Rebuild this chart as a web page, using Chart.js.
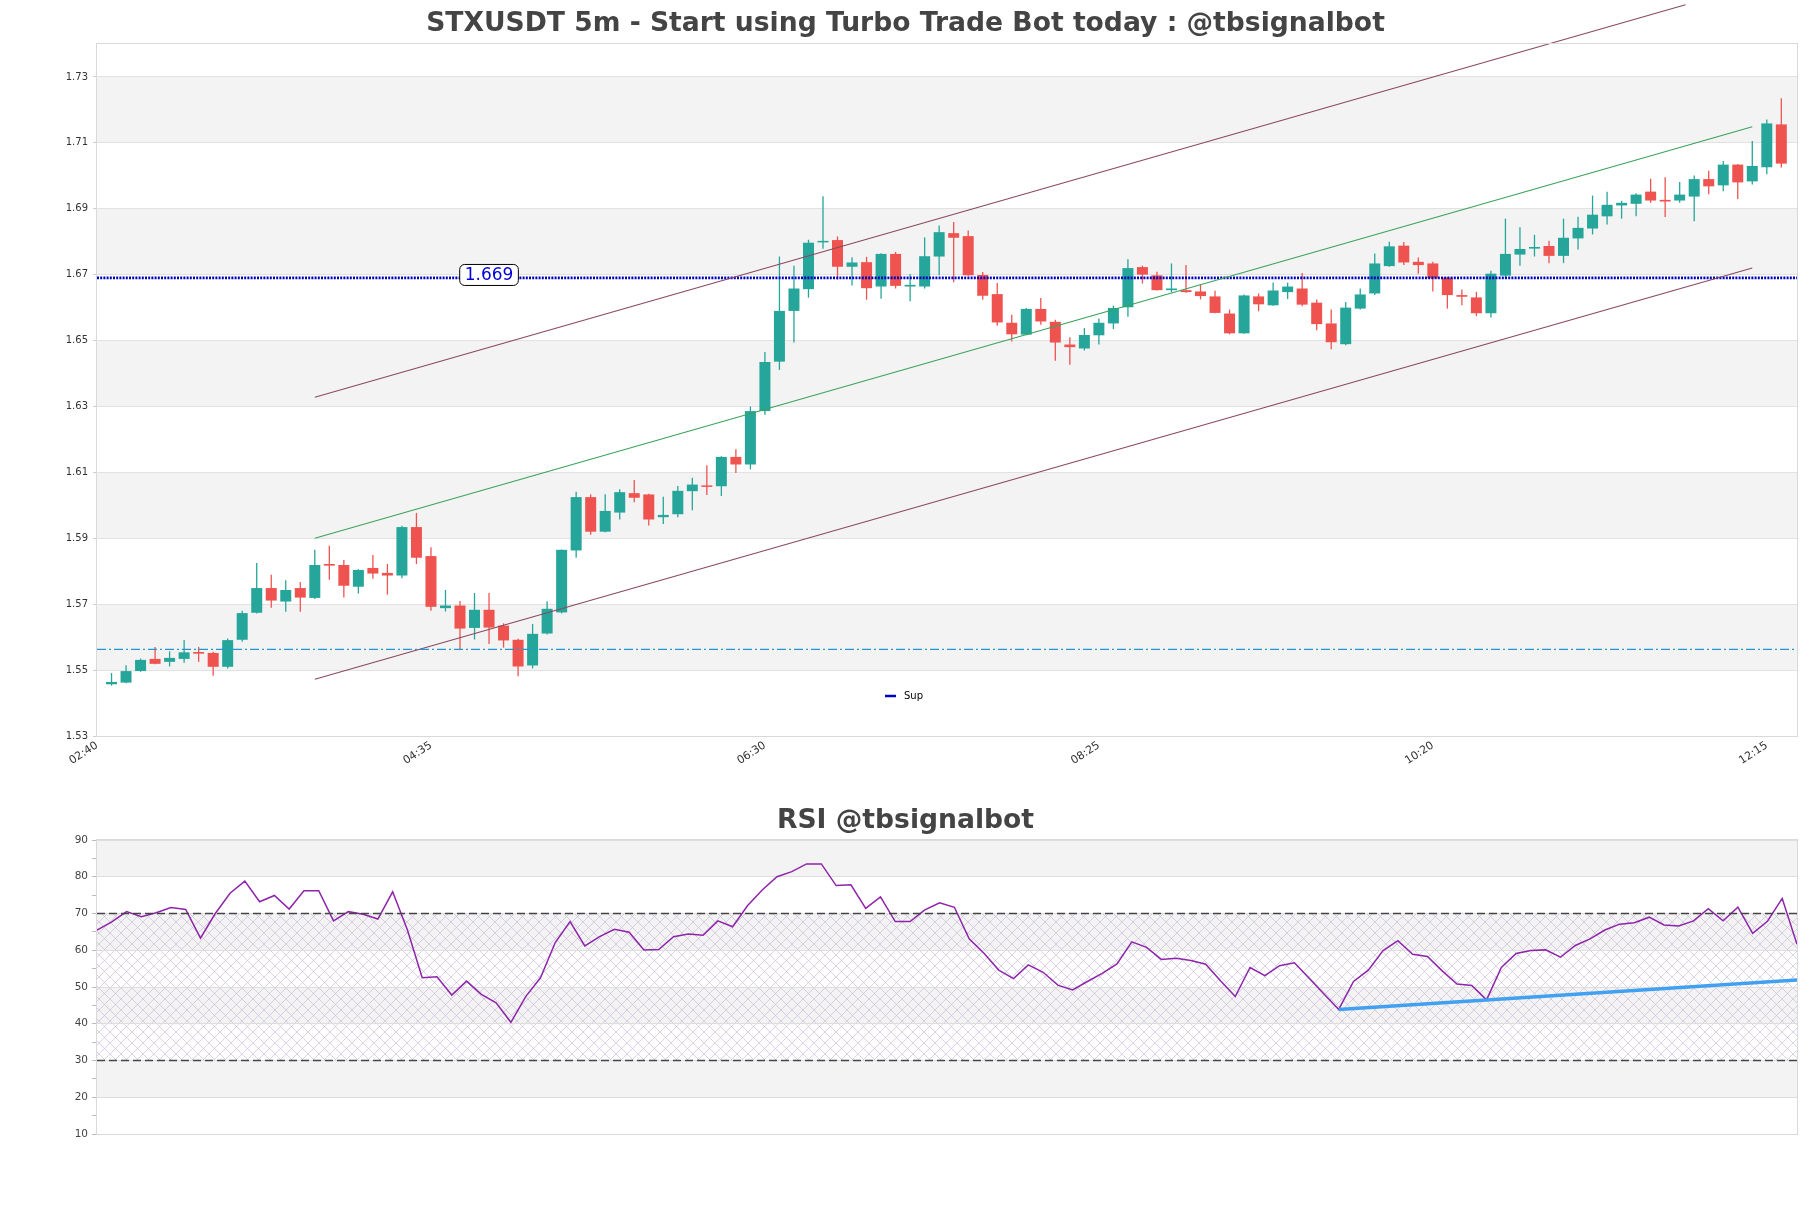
<!DOCTYPE html>
<html><head><meta charset="utf-8">
<script src="https://cdn.jsdelivr.net/npm/chart.js@4.4.0/dist/chart.umd.min.js"></script>
<style>
html,body{margin:0;padding:0;background:#fff;width:1811px;height:1208px;overflow:hidden}
canvas{position:absolute;left:0}
#c1{top:0}
#c2{top:790px}
</style></head><body>
<canvas id="c1" width="1811" height="800" style="width:1811px;height:800px"></canvas>
<canvas id="c2" width="1811" height="418" style="width:1811px;height:418px"></canvas>
<script>
// ---------- data ----------
const chartTitle = 'STXUSDT 5m - Start using Turbo Trade Bot today : @tbsignalbot';
const rsiTitle = 'RSI @tbsignalbot';
// candle i (1..116) = 02:40 + 5 min * i
const openP = [1.5457,1.5462,1.5497,1.5534,1.5525,1.5534,1.5555,1.5552,1.5510,1.5592,1.5674,1.5749,1.5708,1.5749,1.5719,1.5822,1.5819,1.5753,1.5810,1.5795,1.5787,1.5934,1.5846,1.5688,1.5696,1.5628,1.5683,1.5635,1.5592,1.5514,1.5611,1.5675,1.5863,1.6025,1.5920,1.5978,1.6037,1.6033,1.5964,1.5973,1.6043,1.6060,1.6058,1.6147,1.6124,1.6286,1.6436,1.6590,1.6656,1.6798,1.6805,1.6724,1.6738,1.6664,1.6763,1.6664,1.6664,1.6755,1.6826,1.6817,1.6699,1.6641,1.6554,1.6518,1.6596,1.6557,1.6488,1.6476,1.6516,1.6552,1.6601,1.6723,1.6698,1.6653,1.6653,1.6649,1.6634,1.6582,1.6522,1.6634,1.6607,1.6647,1.6658,1.6615,1.6552,1.6489,1.6597,1.6643,1.6726,1.6788,1.6739,1.6734,1.6691,1.6638,1.6631,1.6583,1.6697,1.6761,1.6779,1.6787,1.6757,1.6810,1.6840,1.6877,1.6910,1.6915,1.6952,1.6927,1.6925,1.6937,1.6990,1.6971,1.7034,1.6983,1.7026,1.7156];
const highP = [1.5491,1.5515,1.5535,1.5570,1.5557,1.5591,1.5570,1.5556,1.5596,1.5680,1.5825,1.5789,1.5773,1.5767,1.5865,1.5877,1.5834,1.5806,1.5849,1.5822,1.5938,1.5977,1.5873,1.5743,1.5710,1.5734,1.5734,1.5642,1.5595,1.5640,1.5709,1.5866,1.6041,1.6034,1.6034,1.6049,1.6077,1.6035,1.6026,1.6059,1.6084,1.6122,1.6149,1.6170,1.6300,1.6465,1.6755,1.6727,1.6806,1.6938,1.6816,1.6753,1.6754,1.6765,1.6769,1.6702,1.6813,1.6849,1.6860,1.6834,1.6708,1.6675,1.6578,1.6599,1.6629,1.6563,1.6510,1.6538,1.6567,1.6606,1.6747,1.6727,1.6709,1.6734,1.6729,1.6670,1.6651,1.6594,1.6640,1.6643,1.6676,1.6676,1.6705,1.6625,1.6594,1.6617,1.6658,1.6764,1.6800,1.6799,1.6752,1.6739,1.6693,1.6655,1.6648,1.6712,1.6870,1.6844,1.6821,1.6803,1.6870,1.6876,1.6940,1.6952,1.6924,1.6947,1.6991,1.6996,1.6981,1.7001,1.7015,1.7045,1.7036,1.7106,1.7171,1.7235];
const lowP = [1.5453,1.5460,1.5495,1.5518,1.5511,1.5522,1.5525,1.5483,1.5505,1.5586,1.5672,1.5689,1.5677,1.5677,1.5716,1.5774,1.5720,1.5732,1.5777,1.5729,1.5779,1.5822,1.5680,1.5678,1.5564,1.5593,1.5579,1.5568,1.5481,1.5505,1.5608,1.5672,1.5841,1.5911,1.5918,1.5957,1.6009,1.5939,1.5943,1.5964,1.5985,1.6031,1.6028,1.6098,1.6109,1.6275,1.6411,1.6494,1.6630,1.6779,1.6685,1.6667,1.6624,1.6627,1.6658,1.6619,1.6658,1.6698,1.6677,1.6697,1.6624,1.6545,1.6497,1.6516,1.6548,1.6439,1.6427,1.6470,1.6488,1.6535,1.6572,1.6673,1.6652,1.6646,1.6645,1.6625,1.6583,1.6519,1.6521,1.6589,1.6606,1.6626,1.6604,1.6531,1.6474,1.6486,1.6594,1.6638,1.6724,1.6729,1.6703,1.6649,1.6597,1.6607,1.6574,1.6570,1.6687,1.6727,1.6755,1.6735,1.6735,1.6776,1.6822,1.6852,1.6870,1.6877,1.6918,1.6875,1.6918,1.6862,1.6944,1.6953,1.6930,1.6974,1.7005,1.7025];
const closeP = [1.5464,1.5497,1.5531,1.5519,1.5537,1.5554,1.5550,1.5510,1.5591,1.5673,1.5749,1.5711,1.5743,1.5720,1.5819,1.5817,1.5756,1.5804,1.5793,1.5787,1.5934,1.5841,1.5692,1.5696,1.5626,1.5683,1.5629,1.5590,1.5511,1.5610,1.5686,1.5865,1.6025,1.5920,1.5983,1.6040,1.6023,1.5957,1.5971,1.6044,1.6063,1.6056,1.6147,1.6124,1.6286,1.6435,1.6590,1.6658,1.6797,1.6802,1.6724,1.6737,1.6659,1.6763,1.6666,1.6669,1.6756,1.6829,1.6812,1.6698,1.6636,1.6555,1.6519,1.6596,1.6558,1.6494,1.6480,1.6517,1.6554,1.6599,1.6720,1.6700,1.6653,1.6658,1.6647,1.6635,1.6584,1.6522,1.6637,1.6610,1.6652,1.6664,1.6609,1.6550,1.6495,1.6600,1.6640,1.6734,1.6786,1.6737,1.6729,1.6689,1.6638,1.6633,1.6583,1.6703,1.6763,1.6778,1.6784,1.6757,1.6812,1.6842,1.6882,1.6912,1.6918,1.6943,1.6925,1.6922,1.6943,1.6990,1.6968,1.7034,1.6980,1.7030,1.7159,1.7037];
const xTickIdx = [0, 23, 46, 69, 92, 115];
const xTickLabels = ['02:40', '04:35', '06:30', '08:25', '10:20', '12:15'];
const priceTicks = [1.53, 1.55, 1.57, 1.59, 1.61, 1.63, 1.65, 1.67, 1.69, 1.71, 1.73];
const priceBands = [[1.55, 1.57], [1.59, 1.61], [1.63, 1.65], [1.67, 1.69], [1.71, 1.73]];
const supLevel = 1.669;
const supLabelIdx = 27;
const dashLevel = 1.5563;
const channelMid = [[15, 1.5900], [114, 1.7149]];
const channelLow = [[15, 1.5472], [114, 1.6720]];
const channelUp = [[15, 1.6328], [109.4, 1.7519]];
const rsiValues = [65.5,67.7,70.5,69.1,70.2,71.6,71.1,63.3,70.0,75.5,78.8,73.2,74.9,71.2,76.2,76.2,68.0,70.5,69.8,68.5,75.9,65.5,52.5,52.8,47.8,51.6,48.0,45.7,40.4,47.4,52.5,62.1,67.8,61.2,63.7,65.7,64.9,60.1,60.2,63.7,64.4,64.1,68.0,66.4,72.1,76.4,80.0,81.4,83.5,83.5,77.6,77.8,71.4,74.5,67.8,67.8,71.0,72.9,71.7,63.1,59.2,54.6,52.3,56.0,54.0,50.5,49.2,51.5,53.7,56.3,62.3,60.8,57.5,57.8,57.2,56.2,51.7,47.4,55.3,53.1,55.8,56.6,52.4,48.1,43.9,51.5,54.6,59.9,62.6,58.9,58.3,54.4,50.8,50.4,46.5,55.3,59.1,59.9,60.1,58.1,61.3,63.1,65.5,67.1,67.5,69.0,66.9,66.6,68.0,71.3,68.0,71.7,64.6,67.9,74.1,61.6];
const rsiDivergence = [[84, 43.9], [115, 51.9]];
const rsiLevels = [70, 30];
const rsiBands = [[20, 30], [40, 50], [60, 70], [80, 90]];
const rsiHatch = [30, 70];

// ---------- styling ----------
Chart.defaults.font.family = "'DejaVu Sans', sans-serif";
const UP = '#26a69a', DOWN = '#ef5350';
const pts = arr => arr.map(p => ({x: p[0], y: p[1]}));
const candleColors = closeP.map((c, i) => c >= openP[i] ? UP : DOWN);
const bodies = openP.map((o, i) => ({x: i + 1, y: [o, closeP[i]]}));
const wicks = lowP.map((l, i) => ({x: i + 1, y: [l, highP[i]]}));
const X_MAX = 117.08;

function titlePlugin(text, y) {
  return {id: 't' + y, afterDraw(chart) {
    const c = chart.ctx; c.save();
    c.font = "bold 26.6px 'DejaVu Sans', sans-serif"; c.fillStyle = '#444';
    c.textAlign = 'center'; c.textBaseline = 'middle';
    c.fillText(text, chart.width / 2, y); c.restore();
  }};
}
function bandsPlugin(bands, hatch) {
  return {id: 'bands', beforeDraw(chart) {
    const {ctx, chartArea: a, scales: {y}} = chart; ctx.save();
    ctx.fillStyle = '#f3f3f3';
    bands.forEach(b => { const t = y.getPixelForValue(b[1]), btm = y.getPixelForValue(b[0]); ctx.fillRect(a.left, t, a.right - a.left, btm - t); });
    if (hatch) {
      const tile = document.createElement('canvas'); tile.width = 11; tile.height = 11;
      const g = tile.getContext('2d'); g.strokeStyle = 'rgba(196,180,214,0.8)'; g.lineWidth = 0.75;
      g.beginPath(); g.moveTo(0, 0); g.lineTo(11, 11); g.moveTo(11, 0); g.lineTo(0, 11); g.stroke();
      ctx.fillStyle = ctx.createPattern(tile, 'repeat');
      const t = y.getPixelForValue(hatch[1]), btm = y.getPixelForValue(hatch[0]);
      ctx.fillRect(a.left, t, a.right - a.left, btm - t);
    }
    ctx.restore();
  }};
}
const framePlugin = {id: 'frame', afterDraw(chart) {
  const {ctx, chartArea: a} = chart; ctx.save();
  ctx.strokeStyle = '#d9d9d9'; ctx.lineWidth = 1;
  ctx.strokeRect(Math.round(a.left) - 0.5, Math.round(a.top) - 0.5, a.right - a.left + 1, a.bottom - a.top + 1);
  ctx.restore();
}};
const supLabelPlugin = {id: 'supLabel', afterDatasetsDraw(chart) {
  const {ctx, scales: {x, y}} = chart;
  const px = x.getPixelForValue(supLabelIdx), py = y.getPixelForValue(supLevel) - 3;
  const txt = supLevel.toFixed(3);
  ctx.save(); ctx.font = "17px 'DejaVu Sans', sans-serif";
  const w = ctx.measureText(txt).width + 10, h = 21;
  ctx.beginPath(); ctx.roundRect(px - w / 2, py - h / 2, w, h, 5);
  ctx.fillStyle = '#fff'; ctx.fill(); ctx.strokeStyle = '#000'; ctx.lineWidth = 1; ctx.stroke();
  ctx.fillStyle = '#0000dd'; ctx.textAlign = 'center'; ctx.textBaseline = 'middle';
  ctx.fillText(txt, px, py + 1); ctx.restore();
}};
const legendPlugin = {id: 'supLegend', afterDraw(chart) {
  const {ctx, chartArea: a} = chart;
  const ds = chart.data.datasets.find(d => d.label === 'Sup');
  const lx = 885, ly = a.bottom - 40;
  ctx.save(); ctx.strokeStyle = ds.borderColor; ctx.lineWidth = 2.5;
  ctx.beginPath(); ctx.moveTo(lx, ly); ctx.lineTo(lx + 11, ly); ctx.stroke();
  ctx.fillStyle = '#000'; ctx.font = "10px 'DejaVu Sans', sans-serif"; ctx.textBaseline = 'middle';
  ctx.fillText(ds.label, lx + 19, ly); ctx.restore();
}};

const lineDs = (label, data, color, width, dash, extra) => Object.assign({
  type: 'line', label, data, borderColor: color, borderWidth: width, borderDash: dash || [],
  pointRadius: 0, fill: false, tension: 0, order: 1
}, extra || {});

new Chart(document.getElementById('c1'), {
  type: 'bar',
  data: {datasets: [
    {type: 'bar', label: 'wick', data: wicks, backgroundColor: candleColors, barThickness: 1.3, grouped: false, order: 4, inflateAmount: 0},
    {type: 'bar', label: 'body', data: bodies, backgroundColor: candleColors, barThickness: 11, grouped: false, order: 3, minBarLength: 1.5, inflateAmount: 0},
    lineDs('dash', [{x: 0, y: dashLevel}, {x: X_MAX, y: dashLevel}], '#2196d3', 1.2, [9, 3, 2, 3]),
    lineDs('mid', pts(channelMid), '#3aa35a', 1.1),
    lineDs('low', pts(channelLow), '#8a4a5e', 1.1),
    lineDs('up', pts(channelUp), '#8a4a5e', 1.1, null, {clip: false}),
    lineDs('Sup', [{x: 0, y: supLevel}, {x: X_MAX, y: supLevel}], '#0000c0', 2.8, [2, 1.2])
  ]},
  options: {
    responsive: false, animation: false, devicePixelRatio: 1, events: [],
    layout: {padding: {left: 0, right: 14, top: 44, bottom: 0}},
    plugins: {legend: {display: false}, tooltip: {enabled: false}, title: {display: false}},
    scales: {
      x: {type: 'linear', min: 0, max: X_MAX, offset: false,
        afterBuildTicks: s => { s.ticks = xTickIdx.map(v => ({value: v})); },
        afterFit: s => { s.height = 64; },
        grid: {display: false, drawTicks: false, tickLength: 0}, border: {display: false},
        ticks: {autoSkip: false, minRotation: 33, maxRotation: 33, font: {size: 11}, color: '#333', padding: 3,
          callback: v => xTickLabels[xTickIdx.indexOf(v)]}},
      y: {type: 'linear', min: 1.53, max: 1.74,
        afterBuildTicks: s => { s.ticks = priceTicks.map(v => ({value: v})); },
        afterFit: s => { s.width = 97; },
        grid: {color: '#e2e2e2', tickLength: 4, tickColor: '#cfcfcf'}, border: {display: false},
        ticks: {font: {size: 10}, color: '#333', padding: 5, callback: v => v.toFixed(2)}}
    }
  },
  plugins: [bandsPlugin(priceBands, null), framePlugin, supLabelPlugin, legendPlugin, titlePlugin(chartTitle, 24.5)]
});

const rsiTicks = []; for (let v = 10; v <= 90; v += 5) rsiTicks.push(v);
new Chart(document.getElementById('c2'), {
  type: 'line',
  data: {datasets: [
    lineDs('RSI', rsiValues.map((v, k) => ({x: k, y: v})), '#8e24aa', 1.5, null, {order: 2}),
    lineDs('div', pts(rsiDivergence), '#42a0f0', 3.5),
    lineDs('ob', [{x: 0, y: rsiLevels[0]}, {x: rsiValues.length - 1, y: rsiLevels[0]}], '#444', 1.3, [8, 4]),
    lineDs('os', [{x: 0, y: rsiLevels[1]}, {x: rsiValues.length - 1, y: rsiLevels[1]}], '#444', 1.3, [8, 4])
  ]},
  options: {
    responsive: false, animation: false, devicePixelRatio: 1, events: [],
    layout: {padding: {left: 0, right: 14, top: 50, bottom: 0}},
    plugins: {legend: {display: false}, tooltip: {enabled: false}},
    scales: {
      x: {type: 'linear', min: 0, max: rsiValues.length - 1,
        afterFit: s => { s.height = 74; },
        grid: {display: false}, border: {display: false}, ticks: {display: false}},
      y: {type: 'linear', min: 10, max: 90,
        afterBuildTicks: s => { s.ticks = rsiTicks.map(v => ({value: v})); },
        afterFit: s => { s.width = 97; },
        grid: {color: c => c.tick && c.tick.value % 10 === 0 ? '#dedede' : 'rgba(0,0,0,0)', tickLength: 5,
          tickColor: '#bbb'}, border: {display: false},
        ticks: {font: {size: 10.5}, color: '#444', padding: 4, callback: v => v % 10 === 0 ? String(v) : ''}}
    }
  },
  plugins: [bandsPlugin(rsiBands, rsiHatch), framePlugin, titlePlugin(rsiTitle, 31.5)]
});
</script>
</body></html>
